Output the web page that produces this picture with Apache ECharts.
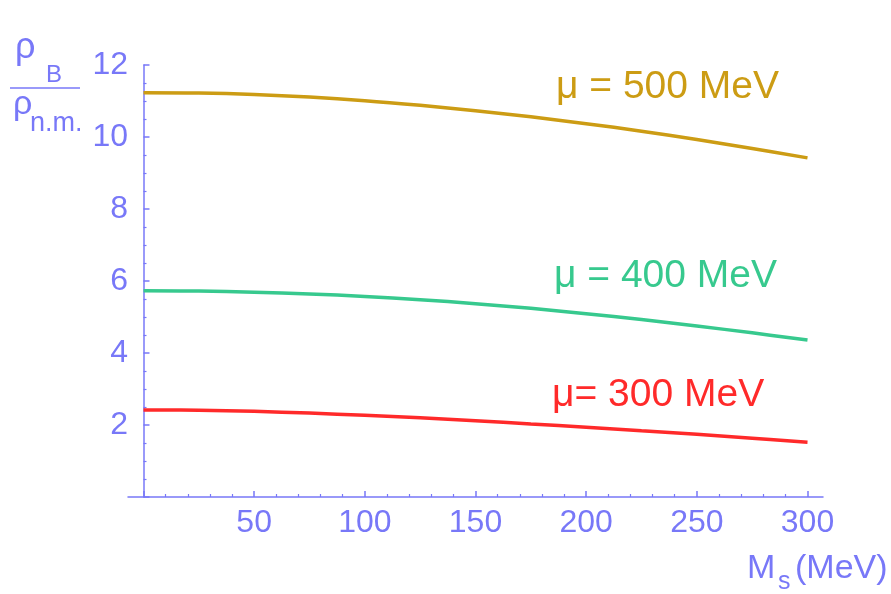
<!DOCTYPE html>
<html>
<head>
<meta charset="utf-8">
<script src="https://cdn.jsdelivr.net/npm/echarts@6/dist/echarts.min.js"></script>
<style>
  html, body { margin: 0; padding: 0; background: #fff; }
  #chart { width: 891px; height: 594px; }
</style>
</head>
<body>
<div id="chart"></div>
<script>
// strange quark mass (MeV)
var msValues = [0, 25, 50, 75, 100, 125, 150, 175, 200, 225, 250, 275, 300];
// rho_B / rho_n.m. for each chemical potential
var rho500 = [11.23, 11.22, 11.18, 11.11, 11.01, 10.88, 10.73, 10.56, 10.37, 10.16, 9.93, 9.68, 9.42];
var rho400 = [5.73, 5.72, 5.69, 5.64, 5.57, 5.48, 5.37, 5.24, 5.09, 4.93, 4.75, 4.56, 4.36];
var rho300 = [2.42, 2.41, 2.38, 2.33, 2.27, 2.20, 2.12, 2.03, 1.94, 1.84, 1.74, 1.63, 1.52];

var xMajor = [0, 50, 100, 150, 200, 250, 300];
var xLabels = [50, 100, 150, 200, 250, 300];
var xMinor = [10, 20, 30, 40, 60, 70, 80, 90, 110, 120, 130, 140, 160, 170, 180, 190,
              210, 220, 230, 240, 260, 270, 280, 290];

var axisColor = '#7878f8';
var font = 'Liberation Sans, Arial, sans-serif';

function pairs(ys) {
  return msValues.map(function (x, i) { return [x, ys[i]]; });
}

function txt(left, top, str, size, color) {
  return { type: 'text', left: left, top: top,
    style: { text: str, fill: color, font: size + 'px ' + font } };
}

var el = document.getElementById('chart');
var myChart = echarts.init(el, null, { renderer: 'canvas' });

var option = {
  animation: false,
  backgroundColor: '#fff',
  grid: { left: 128, right: 68, top: 65, bottom: 97, containLabel: false },
  xAxis: [{
    type: 'value',
    min: -7,
    max: 307,
    position: 'bottom',
    splitLine: { show: false },
    axisLine: { lineStyle: { color: axisColor, width: 1.5 } },
    axisTick: { inside: true, length: 6, customValues: xMajor, lineStyle: { color: axisColor, width: 1.5 } },
    axisLabel: { customValues: xLabels, color: axisColor, fontSize: 32, fontFamily: font, margin: 10 }
  }, {
    type: 'value',
    min: -7,
    max: 307,
    position: 'bottom',
    splitLine: { show: false },
    axisLine: { show: false },
    axisTick: { inside: true, length: 3, customValues: xMinor, lineStyle: { color: axisColor, width: 1.2 } },
    axisLabel: { show: false }
  }],
  yAxis: {
    type: 'value',
    min: 0,
    max: 12,
    interval: 2,
    splitLine: { show: false },
    axisLine: { show: true, onZero: true, lineStyle: { color: axisColor, width: 1.5 } },
    axisTick: { inside: true, length: 6, lineStyle: { color: axisColor, width: 1.5 } },
    minorTick: { show: true, splitNumber: 4, length: 3, lineStyle: { color: axisColor, width: 1.2 } },
    minorSplitLine: { show: false },
    axisLabel: { color: axisColor, fontSize: 32, fontFamily: font, margin: 0, showMinLabel: false }
  },
  series: [
    { type: 'line', name: '500', data: pairs(rho500), smooth: 0.4, showSymbol: false,
      lineStyle: { color: '#cc9c14', width: 3.5 } },
    { type: 'line', name: '400', data: pairs(rho400), smooth: 0.4, showSymbol: false,
      lineStyle: { color: '#37c98e', width: 3.5 } },
    { type: 'line', name: '300', data: pairs(rho300), smooth: 0.4, showSymbol: false,
      lineStyle: { color: '#ff2a2a', width: 3.5 } }
  ],
  graphic: [
    txt(556, 68, 'μ = 500 MeV', 39, '#cc9c14'),
    txt(554, 257, 'μ = 400 MeV', 39, '#37c98e'),
    txt(552, 376, 'μ= 300 MeV', 39, '#ff2a2a'),
    // y axis name as a fraction
    txt(15, 30, 'ρ', 36, axisColor),
    txt(46, 63, 'B', 24, axisColor),
    { type: 'line', shape: { x1: 10, y1: 88, x2: 80, y2: 88 },
      style: { stroke: axisColor, lineWidth: 1.5 } },
    txt(13, 88, 'ρ', 34, axisColor),
    txt(30, 110, 'n.m.', 27, axisColor),
    // x axis name
    txt(747, 552, 'M', 34, axisColor),
    txt(778, 570, 's', 25, axisColor),
    txt(795, 552, '(MeV)', 34, axisColor)
  ]
};

myChart.setOption(option, true);
</script>
</body>
</html>
